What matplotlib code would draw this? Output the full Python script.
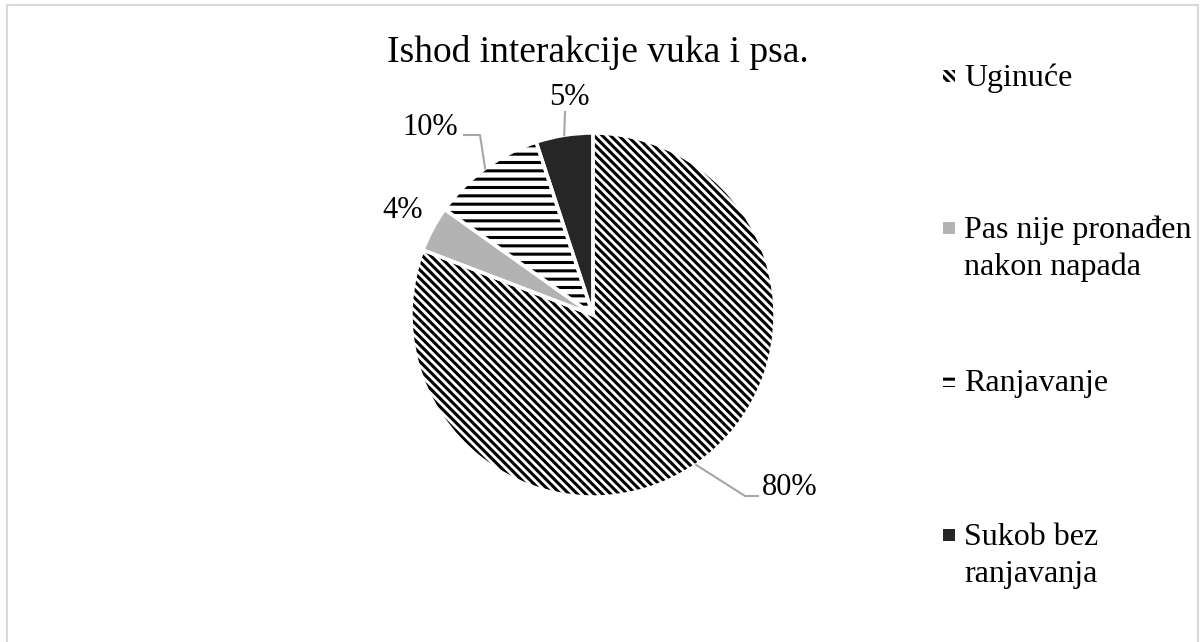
import numpy as np
import matplotlib.pyplot as plt
from matplotlib.patches import Rectangle

plt.rcParams['font.family'] = ['Liberation Serif', 'DejaVu Serif']
plt.rcParams['hatch.linewidth'] = 2.2

title = "Ishod interakcije vuka i psa."
labels = ["Uginuće", "Pas nije pronađen\nnakon napada", "Ranjavanje", "Sukob bez\nranjavanja"]
values = [80, 4, 10, 5]
colors = ["white", "#b3b3b3", "white", "#262626"]
hatches = ["\\\\\\\\", "", "--", ""]

W, H = 1200, 642
fig = plt.figure(figsize=(W / 100, H / 100), dpi=100)

def fx(px):
    return px / W

def fy(py):
    return 1 - py / H

# outer frame
fig.add_artist(Rectangle((fx(7), fy(660)), fx(1198) - fx(7), fy(5) - fy(660),
                         transform=fig.transFigure, fill=False,
                         edgecolor="#d9d9d9", linewidth=1.5))

cx, cy, r = 593, 315, 182
ax = fig.add_axes([fx(cx - r), fy(cy + r), 2 * r / W, 2 * r / H])

wedges, _ = ax.pie(values, colors=colors, startangle=90, counterclock=False,
                   wedgeprops=dict(edgecolor="black", linewidth=0))
for w, h in zip(wedges, hatches):
    w.set_hatch(h)
# white separators on top
ax.pie(values, colors=["none"] * 4, startangle=90, counterclock=False,
       wedgeprops=dict(edgecolor="white", linewidth=2.5))
ax.set_xlim(-1, 1)
ax.set_ylim(-1, 1)
ax.set_aspect("equal")
ax.axis("off")

def to_data(px, py):
    return (px - cx) / r, (cy - py) / r

def edge(wd):
    a = np.deg2rad((wd.theta1 + wd.theta2) / 2)
    return np.cos(a), np.sin(a)

pct = [f"{v}%" for v in values]
lab_pos = [(790, 495), (403, 218), (430, 135), (569, 105)]
for i, (px, py) in enumerate(lab_pos):
    x, y = to_data(px, py)
    ax.text(x, y, pct[i], ha="center", va="baseline", fontsize=22, clip_on=False)

lc = "#a6a6a6"
# leader 80%
ex, ey = edge(wedges[0])
e1 = to_data(745, 496)
e2 = to_data(758, 496)
ax.plot([ex, e1[0], e2[0]], [ey, e1[1], e2[1]], color=lc, lw=1.5, clip_on=False)
# leader 10%
ex, ey = edge(wedges[2])
e1 = to_data(480, 135)
e2 = to_data(464, 135)
ax.plot([ex, e1[0], e2[0]], [ey, e1[1], e2[1]], color=lc, lw=1.5, clip_on=False)
# leader 5%
ex, ey = edge(wedges[3])
e1 = to_data(565, 112)
ax.plot([ex, e1[0]], [ey, e1[1]], color=lc, lw=1.5, clip_on=False)

fig.text(fx(598), fy(62), title, ha="center", va="baseline", fontsize=27)

# legend
leg_base = [86, 238, 391, 545]
for i, lab in enumerate(labels):
    b = leg_base[i]
    fig.add_artist(Rectangle((fx(943), fy(b - 4)), 12 / W, 12 / H,
                             transform=fig.transFigure, facecolor=colors[i],
                             edgecolor="black", linewidth=0, hatch=hatches[i]))
    for k, line in enumerate(lab.split("\n")):
        fig.text(fx(964), fy(b + 37 * k), line, ha="left", va="baseline",
                 fontsize=23)

fig.savefig("out.png", dpi=100)
